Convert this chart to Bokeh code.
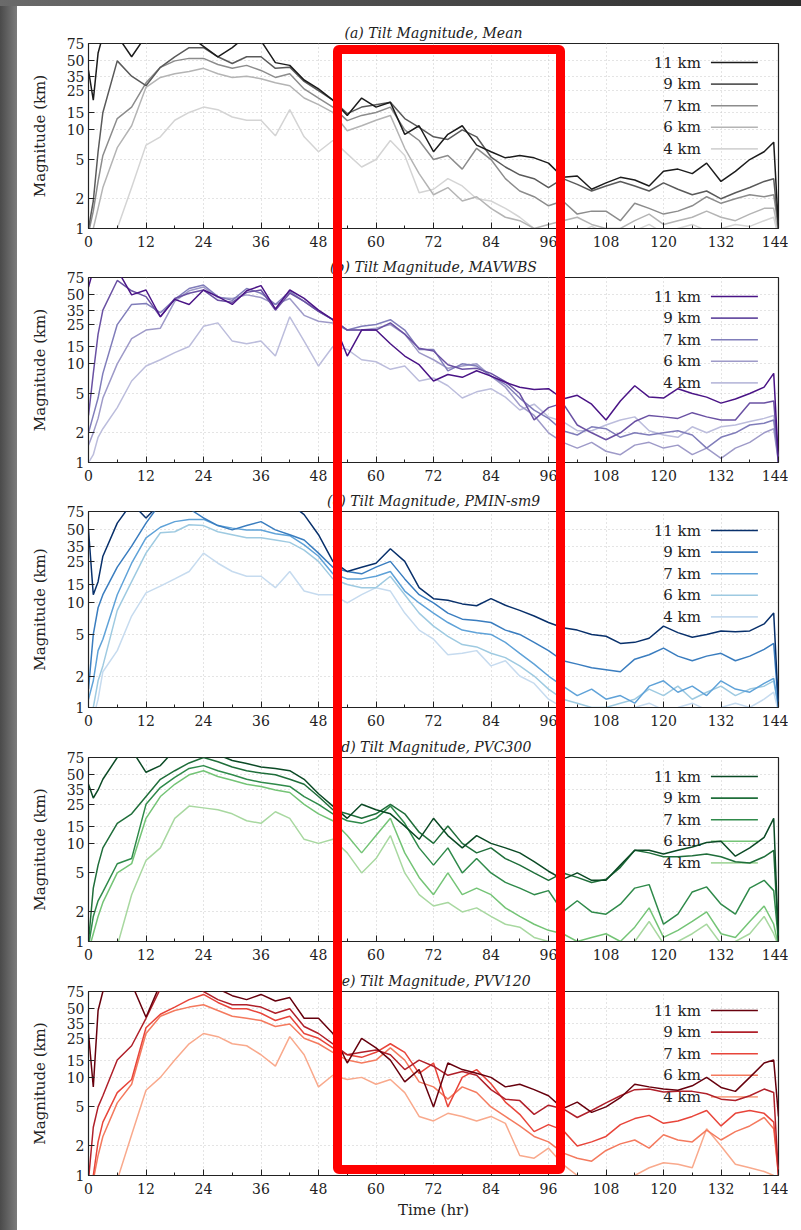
from bokeh.plotting import figure
from bokeh.layouts import column, row
from bokeh.models import FixedTicker, BasicTickFormatter, Div
from bokeh.core.properties import value
from bokeh.embed import file_html
from bokeh.resources import INLINE
import math

# ---------------- data ----------------
hours = [0, 1, 2, 3, 6, 9, 12, 15, 18, 21, 24, 27, 30, 33, 36, 39, 42, 45, 48, 51,
         54, 57, 60, 63, 66, 69, 72, 75, 78, 81, 84, 87, 90, 93, 96, 99, 102, 105,
         108, 111, 114, 117, 120, 123, 126, 129, 132, 135, 138, 141, 143, 144]

levels = ["11 km", "9 km", "7 km", "6 km", "4 km"]
x_ticks = [0, 12, 24, 36, 48, 60, 72, 84, 96, 108, 120, 132, 144]
x_minor = [6, 18, 30, 42, 54, 66, 78, 90, 102, 114, 126, 138]
y_ticks = [1, 2, 5, 10, 15, 25, 35, 50, 75]

titles = ["(a) Tilt Magnitude, Mean", "(b) Tilt Magnitude, MAVWBS",
          "(c) Tilt Magnitude, PMIN-sm9", "(d) Tilt Magnitude, PVC300",
          "(e) Tilt Magnitude, PVV120"]

# (a) Mean
mean_11 = [40, 20, 60, 90, 90, 55, 90, 90, 90, 90, 70, 55, 68, 90, 80, 48, 45, 32, 26, 20, 14, 21, 17, 19, 9, 11, 6, 9, 11, 7, 6, 5.2, 5.5, 5.2, 4.6, 3.3, 3.4, 2.5, 2.9, 3.3, 3.1, 2.7, 3.8, 4.0, 3.6, 4.6, 3.0, 3.8, 5.0, 6.0, 7.5, 1.0]
mean_9 = [1.0, 1.9, 6, 15, 50, 35, 28, 43, 55, 68, 68, 55, 47, 55, 55, 42, 43, 31, 25, 20, 14.6, 17, 18, 19, 13, 10.6, 8.5, 8, 10, 8.5, 5.3, 4.2, 3.5, 3.2, 2.6, 3.2, 2.8, 2.4, 2.7, 3.0, 2.7, 2.4, 2.9, 2.5, 2.2, 2.4, 2.0, 2.3, 2.6, 3.0, 3.2, 1.0]
mean_7 = [0.9, 1.5, 3, 5.5, 13, 17, 30, 43, 50, 53, 53, 46, 42, 45, 40, 34, 37, 26, 21, 17, 12.4, 14, 15, 17, 10, 7.8, 5, 5.5, 4, 6.5, 5, 3.2, 2.4, 2.1, 1.7, 1.9, 1.4, 1.5, 1.5, 1.2, 1.8, 1.6, 1.4, 1.5, 1.7, 2.1, 1.8, 2.0, 2.2, 2.1, 2.2, 1.0]
mean_6 = [0.8, 1.0, 1.6, 2.6, 6.6, 11, 27, 34, 37, 39, 42, 37, 34, 35, 33, 30, 28, 21, 18, 15, 9.8, 11, 12.5, 14, 6.5, 3.6, 2.2, 2.6, 1.9, 2.1, 1.6, 1.3, 1.2, 1.0, 1.1, 1.2, 1.3, 1.1, 1.0, 1.0, 1.2, 1.4, 1.1, 1.2, 1.3, 1.5, 1.3, 1.2, 1.4, 1.6, 1.6, 0.9]
mean_4 = [0.5, 0.5, 0.5, 0.6, 1.0, 2.6, 7, 8.5, 12.5, 15, 17, 16, 13.5, 12.5, 12.5, 8.7, 16, 8.5, 6, 7.8, 5.7, 4.2, 5, 7.8, 5.5, 2.3, 2.5, 3.2, 2.7, 2.0, 1.9, 1.6, 1.3, 1.0, 0.95, 1.0, 0.9, 1.05, 0.9, 1.0, 0.95, 1.1, 0.9, 1.0, 1.1, 0.95, 1.0, 1.1, 1.05, 1.2, 1.3, 0.8]

# (b) MAVWBS
mav_11 = [60, 90, 90, 90, 90, 50, 56, 30, 45, 40, 56, 48, 40, 55, 62, 36, 56, 46, 35, 28, 12, 22, 22, 16, 12, 9.8, 6.7, 7.8, 7.3, 8.5, 7.5, 6.5, 5.8, 5.5, 5.6, 4.4, 4.8, 3.9, 2.7, 4.2, 6.0, 4.6, 4.5, 5.6, 5.0, 4.6, 4.0, 4.4, 5.0, 5.8, 8.0, 1.0]
mav_9 = [3, 8, 20, 35, 70, 55, 48, 30, 46, 52, 56, 44, 42, 53, 56, 35, 52, 43, 34, 28, 22, 22, 22, 26, 20, 14.4, 13.5, 9.8, 8.8, 9.0, 8.0, 6.6, 5.0, 2.7, 3.6, 4.0, 2.4, 2.0, 1.7, 2.0, 2.6, 3.0, 2.9, 2.8, 3.2, 2.9, 2.7, 2.7, 4.0, 4.0, 4.2, 1.0]
mav_7 = [2, 3, 4.5, 8, 25, 40, 41, 33, 45, 58, 63, 48, 44, 58, 52, 40, 54, 43, 34, 28, 22, 24, 25, 28, 22, 14, 14, 8.5, 10, 9.5, 7.5, 6.2, 4.5, 3.4, 2.8, 2.1, 1.9, 2.3, 2.2, 1.8, 2.0, 1.9, 2.0, 2.1, 1.9, 1.4, 1.8, 2.0, 2.4, 2.5, 2.7, 1.0]
mav_6 = [1.5, 2, 2.8, 4.5, 10, 18, 22, 23, 43, 55, 60, 47, 46, 50, 47, 40, 46, 31, 27, 26, 22, 22, 23, 25, 20, 13, 11, 9, 9.5, 10, 7.5, 5.8, 3.8, 3.0, 2.0, 1.6, 1.4, 1.6, 1.3, 1.2, 1.5, 1.6, 1.4, 1.5, 1.2, 1.4, 1.1, 1.4, 1.6, 2.0, 2.2, 1.0]
mav_4 = [1, 1.2, 1.8, 2.2, 3.6, 6.7, 9.5, 11, 13, 15, 24, 26, 17, 16, 17, 12, 30, 17, 9.5, 15, 14, 11, 10.5, 8.8, 9.5, 6.7, 7.2, 6, 4.5, 5.2, 5.6, 4.6, 3.4, 3.9, 2.9, 2.6, 2.1, 2.1, 2.4, 2.7, 2.9, 2.1, 1.9, 1.8, 2.3, 2.0, 2.3, 2.4, 2.6, 2.8, 3.0, 1.0]

# (c) PMIN-sm9
pmin_11 = [50, 12, 16, 28, 58, 90, 65, 90, 90, 90, 90, 90, 90, 90, 90, 90, 90, 70, 45, 25, 20, 22, 24, 33, 25, 14, 11, 10.6, 9.8, 9.4, 11, 9.5, 8.5, 7.5, 6.5, 5.8, 5.5, 5.0, 4.8, 4.1, 4.2, 4.6, 6.0, 5.2, 4.7, 5.0, 5.4, 5.3, 5.4, 6.3, 8.0, 1.0]
pmin_9 = [1.5, 5, 9, 12, 22, 35, 58, 90, 90, 80, 65, 55, 50, 55, 60, 50, 45, 40, 30, 22, 20, 19, 22, 25, 17, 12, 10, 8, 7, 6.8, 6.5, 5.5, 5, 4.2, 3.5, 2.8, 2.6, 2.4, 2.3, 2.2, 2.9, 3.2, 3.7, 3.1, 2.8, 3.1, 3.3, 2.8, 3.1, 3.6, 4.1, 1.0]
pmin_7 = [1.2, 1.8, 3.5, 4.5, 12, 24, 42, 53, 60, 63, 63, 55, 52, 50, 50, 46, 44, 36, 28, 19, 17, 17, 18, 20, 13, 10, 8, 6.5, 5.5, 5.2, 5.0, 4.2, 3.3, 2.6, 2.0, 1.6, 1.3, 1.5, 1.2, 1.3, 1.1, 1.6, 1.8, 1.4, 1.6, 1.3, 1.8, 1.5, 1.4, 1.7, 1.9, 1.0]
pmin_6 = [0.8, 1.0, 1.8, 2.5, 8.5, 16, 30, 47, 48, 56, 55, 48, 45, 42, 42, 40, 38, 32, 25, 17, 15, 14, 14, 18, 12, 8, 6, 4.8, 4, 3.8, 3.3, 3.0, 2.5, 2.0, 1.5, 1.2, 1.1, 1.0, 1.0, 1.1, 1.2, 1.5, 1.3, 1.6, 1.2, 1.4, 1.6, 1.3, 1.5, 1.6, 1.8, 1.0]
pmin_4 = [0.6, 0.8, 1.2, 2.2, 3.5, 7.5, 12.5, 14.5, 17, 20, 30, 24, 20, 18, 18, 14, 20, 13, 12, 12, 10, 12, 14, 13, 8, 5.5, 4.5, 3.2, 3.3, 3.5, 2.5, 2.8, 2.0, 1.7, 1.2, 1.0, 0.95, 0.9, 1.0, 0.9, 1.0, 1.1, 0.95, 1.0, 1.1, 0.95, 1.0, 1.1, 1.0, 1.2, 1.4, 0.9]

# (d) PVC300
pvc_11 = [40, 29, 35, 45, 75, 90, 53, 62, 90, 90, 90, 80, 70, 65, 60, 58, 55, 45, 32, 24, 18, 25, 22, 20, 15, 11, 18, 12, 9, 12, 10, 9, 8, 6.5, 5.2, 4.3, 5, 4.2, 4.2, 6.0, 8.5, 8.5, 7.8, 8.5, 9.2, 10.2, 10.5, 7.4, 9.0, 11.5, 18, 1.0]
pvc_9 = [1.0, 3.5, 6, 9, 16, 20, 30, 45, 55, 66, 75, 68, 60, 55, 52, 50, 45, 40, 30, 22, 20, 18, 20, 25, 20, 13, 10, 15, 10, 8, 9, 7, 6, 5, 4.2, 5.0, 4.5, 4.0, 4.3, 5.7, 8.5, 8.0, 7.3, 7.3, 7.5, 7.8, 7.3, 6.5, 6.3, 7.3, 8.5, 1.0]
pvc_7 = [0.9, 1.8, 2.6, 3.2, 6.2, 7.0, 25, 37, 47, 58, 62, 55, 50, 45, 42, 40, 38, 30, 25, 20, 17, 16, 18, 24, 16, 9, 6, 9, 5, 7, 5, 4, 3.5, 3.0, 3.3, 2.0, 2.6, 2.0, 1.9, 2.4, 3.5, 3.8, 1.5, 1.9, 3.2, 3.6, 2.4, 1.9, 3.5, 4.2, 3.3, 1.0]
pvc_6 = [0.8, 1.2, 1.8, 2.5, 5, 6.2, 18, 30, 40, 50, 55, 48, 44, 40, 38, 35, 33, 25, 20, 17, 12, 8, 12, 18, 8, 4.5, 3, 5, 3, 3.5, 3.0, 2.2, 1.8, 1.5, 1.3, 1.2, 1.0, 1.1, 1.2, 1.0, 1.4, 2.2, 1.1, 1.3, 1.6, 2.0, 1.2, 1.1, 1.6, 2.3, 1.5, 0.9]
pvc_4 = [0.5, 0.5, 0.5, 0.6, 0.9, 3.0, 6.7, 9, 18, 24, 23, 22, 20, 17, 16, 21, 18, 11, 10, 11, 8, 5, 7, 12, 5, 3, 2.3, 2.5, 2.0, 2.2, 1.8, 1.5, 1.4, 1.1, 1.0, 0.9, 0.9, 0.9, 0.95, 0.9, 1.0, 1.6, 0.95, 1.0, 1.2, 1.5, 0.95, 1.0, 1.2, 1.8, 1.2, 0.9]

# (e) PVV120
pvv_11 = [28, 8, 48, 75, 90, 90, 41, 90, 90, 90, 90, 80, 68, 62, 70, 60, 65, 40, 40, 28, 14, 25, 20, 15, 9, 12, 5, 14, 12, 11, 10, 8, 8.5, 7.5, 6.5, 4.8, 5.6, 4.4, 5.0, 6.2, 8.5, 8.0, 7.6, 7.4, 8.2, 10, 7.9, 7.2, 10, 14, 15, 4]
pvv_9 = [0.9, 3.1, 5, 6.5, 15, 21, 40, 80, 90, 90, 75, 62, 55, 55, 52, 45, 50, 33, 28, 22, 17, 18, 19, 17, 12, 15, 13, 10.5, 11.5, 10.5, 7.5, 6, 5.8, 4.2, 5.2, 4.8, 3.9, 4.6, 5.5, 6.5, 7.5, 7.6, 7.1, 7.2, 7.2, 6.8, 6.0, 5.8, 6.5, 7.6, 7.0, 1.0]
pvv_7 = [0.8, 1.0, 2.2, 3.5, 7, 9.5, 32, 44, 52, 62, 70, 58, 50, 50, 45, 38, 42, 28, 25, 20, 17, 16, 18, 22, 18, 11, 14, 5, 10, 12, 8.6, 5.6, 4.2, 2.8, 3.3, 2.9, 2.0, 2.2, 2.5, 3.3, 3.8, 4.1, 3.4, 3.6, 4.0, 4.6, 3.2, 4.3, 4.6, 4.3, 3.5, 1.0]
pvv_6 = [0.7, 0.9, 1.6, 2.5, 5.5, 8.5, 28, 42, 48, 52, 55, 48, 42, 40, 38, 33, 35, 25, 22, 18, 15, 14, 15, 20, 15, 9, 8, 6, 8, 7, 5, 4, 3.2, 2.5, 2.2, 1.7, 1.5, 1.4, 1.8, 2.1, 2.3, 1.9, 2.6, 2.3, 2.2, 2.9, 2.3, 2.8, 3.2, 3.9, 3.0, 1.0]
pvv_4 = [0.4, 0.4, 0.4, 0.5, 0.9, 2.6, 7.4, 10, 15, 22, 28, 26, 22, 21, 17, 13, 26, 17, 8, 10.5, 9.5, 10, 8.5, 9.5, 7, 4, 3.6, 4.3, 4.0, 3.6, 4.0, 3.4, 1.6, 1.5, 1.9, 1.3, 1.0, 0.95, 1.0, 0.95, 1.0, 1.2, 1.35, 1.3, 1.2, 3.0, 2.0, 1.3, 1.2, 1.1, 1.0, 0.9]

panel_series = [
    [mean_11, mean_9, mean_7, mean_6, mean_4],
    [mav_11, mav_9, mav_7, mav_6, mav_4],
    [pmin_11, pmin_9, pmin_7, pmin_6, pmin_4],
    [pvc_11, pvc_9, pvc_7, pvc_6, pvc_4],
    [pvv_11, pvv_9, pvv_7, pvv_6, pvv_4],
]

# ---------------- styles ----------------
panel_colors = [
    ["#1c1c1c", "#5a5a5a", "#8c8c8c", "#b4b4b4", "#d4d4d4"],
    ["#4a1486", "#6a51a3", "#807dba", "#9e9ac8", "#bcbddc"],
    ["#08306b", "#3a7dbf", "#5fa2d8", "#9ecae1", "#c6dbef"],
    ["#0b4a25", "#1f6e3a", "#2f8a4a", "#74c476", "#a8d8a0"],
    ["#67000d", "#b0202a", "#e8453a", "#f47a5e", "#f9a98c"],
]

# figure geometry: (height, top border, bottom border)
geom = [(252, 43, 24), (234, 25, 24), (245, 25, 24), (234, 26, 24), (261, 26, 51)]
FIG_W, LEFT, RIGHT = 788, 88, 10
SERIF = "DejaVu Serif"
TXT = "#222222"

figs = []
for i in range(5):
    h, top, bot = geom[i]
    p = figure(width=FIG_W, height=h, x_range=(0, 144), y_range=(1, 75),
               y_axis_type="log", output_backend="svg", toolbar_location=None,
               min_border_left=LEFT, min_border_right=RIGHT,
               min_border_top=top, min_border_bottom=bot,
               background_fill_color="white", border_fill_color="white")
    p.title.text = titles[i]
    p.title.align = "center"
    p.title.text_font = SERIF
    p.title.text_font_style = "italic"
    p.title.text_font_size = "14px"
    p.title.text_color = TXT
    p.title.standoff = 6

    p.outline_line_color = "#222222"
    p.outline_line_width = 1.2

    p.xaxis.ticker = FixedTicker(ticks=x_ticks, minor_ticks=x_minor)
    p.yaxis.ticker = FixedTicker(ticks=y_ticks, minor_ticks=[])
    p.yaxis.formatter = BasicTickFormatter()
    for ax in (p.xaxis[0], p.yaxis[0]):
        ax.major_tick_in = 6
        ax.major_tick_out = 0
        ax.minor_tick_in = 3
        ax.minor_tick_out = 0
        ax.major_tick_line_color = "#222222"
        ax.minor_tick_line_color = "#222222"
        ax.axis_line_color = "#222222"
        ax.major_label_text_font = SERIF
        ax.major_label_text_font_size = "14px"
        ax.major_label_text_color = TXT
        ax.axis_label_text_font = SERIF
        ax.axis_label_text_font_style = "normal"
        ax.axis_label_text_font_size = "15px"
        ax.axis_label_text_color = TXT
    p.xaxis.major_label_standoff = 7
    p.yaxis.major_label_standoff = 4
    p.yaxis.axis_label = "Magnitude (km)"
    p.yaxis.axis_label_standoff = 15
    if i == 4:
        p.xaxis.axis_label = "Time (hr)"
        p.xaxis.axis_label_standoff = 4

    for g in (p.xgrid[0], p.ygrid[0]):
        g.grid_line_color = "#c8c8c8"
        g.grid_line_dash = "1 3"
        g.grid_line_width = 1
    p.ygrid.ticker = FixedTicker(ticks=y_ticks)

    # legend (text then line, top-right inside the frame)
    frame_h = h - top - bot
    lx_text, lx0, lx1 = 127.8, 129.9, 139.7
    ly = []
    for k in range(5):
        dy = 19 + 21.6 * k
        frac = (frame_h - dy) / frame_h
        ly.append(10 ** (frac * math.log10(75)))
    p.text(x=[lx_text] * 5, y=ly, text=levels, text_align="right",
           text_baseline="middle", text_font=value(SERIF),
           text_font_size="15px", text_color=TXT)
    for k in range(5):
        p.line([lx0, lx1], [ly[k], ly[k]], line_color=panel_colors[i][k], line_width=1.6)

    # data lines, lightest first
    for k in reversed(range(5)):
        ys = panel_series[i][k]
        assert len(ys) == len(hours), (i, k, len(ys))
        p.line(hours, ys, line_color=panel_colors[i][k], line_width=1.5)
    figs.append(p)

overlay = Div(width=1, height=1, text=(
    '<div style="position:fixed;left:0;top:0;width:17px;height:1230px;box-sizing:border-box;'
    'background:linear-gradient(to right,#4a4a4a,#7c7c7c);pointer-events:none;z-index:50;"></div>'
    '<div style="position:fixed;left:0;top:0;width:801px;height:6px;box-sizing:border-box;'
    'background:linear-gradient(to right,#6a6a6a,#2c2c2c);pointer-events:none;z-index:50;"></div>'
    '<div style="position:fixed;left:333px;top:45px;width:232px;height:1129px;box-sizing:border-box;'
    'border:9px solid #ff0000;border-radius:6px;pointer-events:none;z-index:100;"></div>'))

layout = row(column(*figs, spacing=0), overlay, spacing=0)

open("out.html", "w").write(file_html(layout, INLINE))
